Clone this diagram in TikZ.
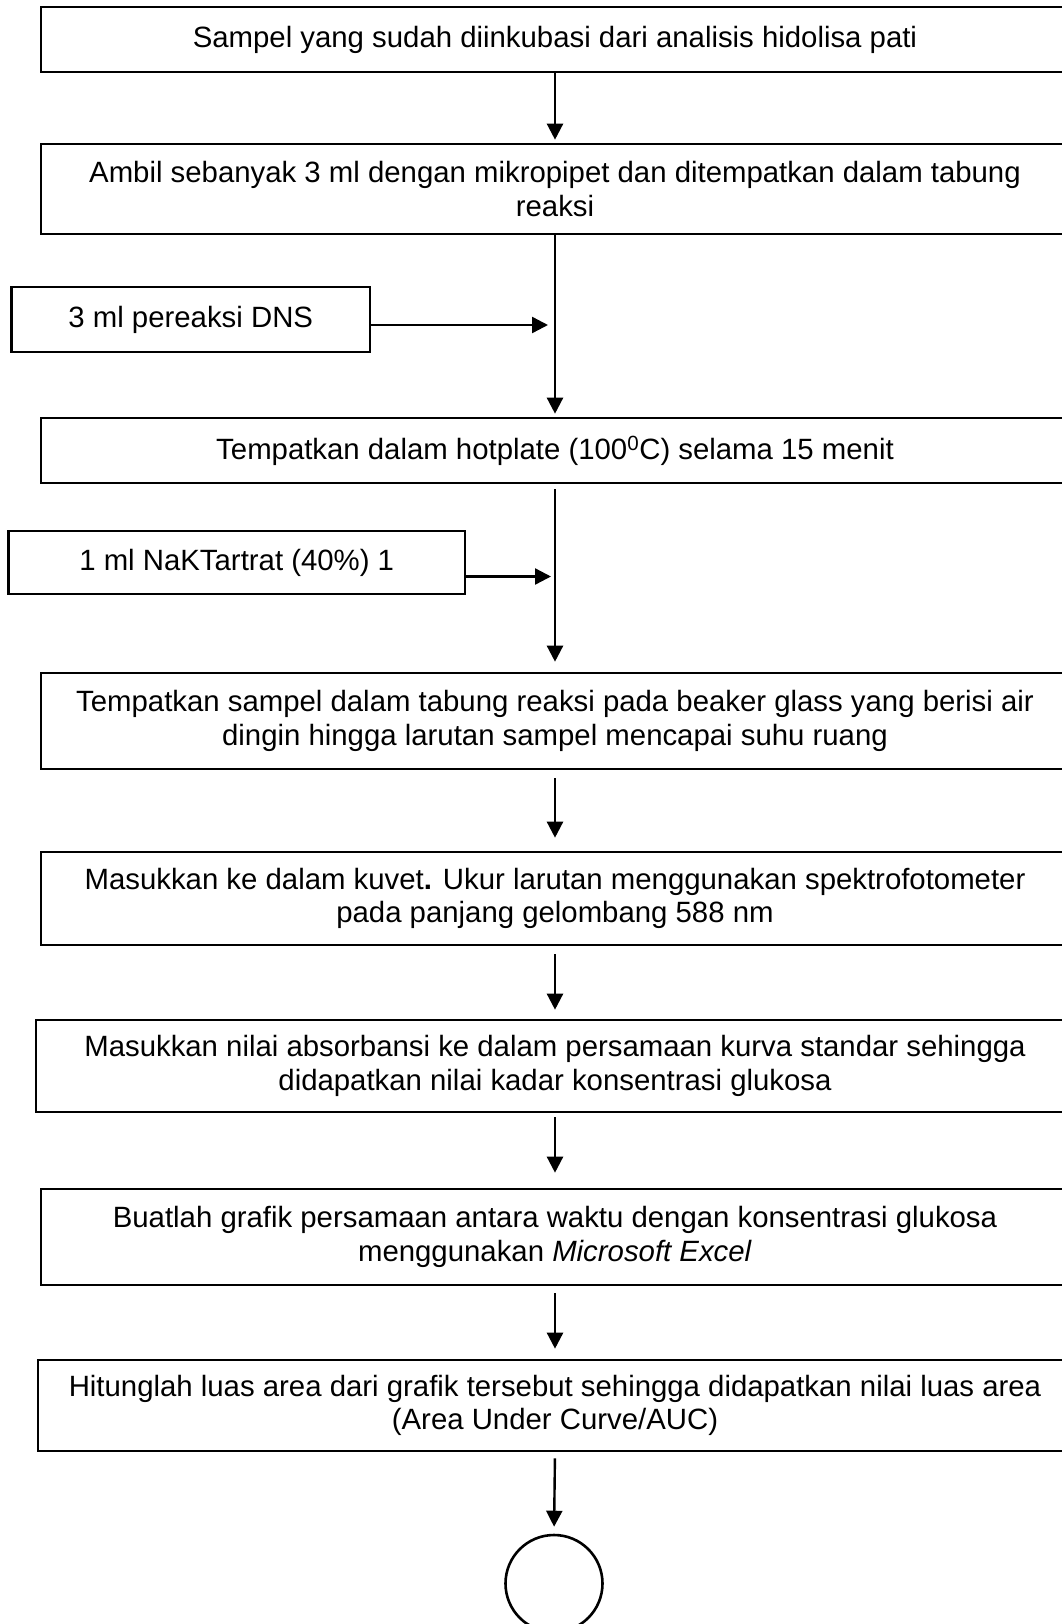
\documentclass[tikz,border=0pt]{standalone}
\usepackage{fontspec}
\setmainfont{Liberation Sans}
\usetikzlibrary{arrows.meta,calc}
\tikzset{
  stepbox/.style={draw, line width=2.6pt, rectangle, align=center, inner sep=0pt,
    font=\fontsize{29.35}{33.5}\selectfont},
  arr/.style={line width=2.4pt, -{Triangle[length=16pt,width=16pt]}},
  endcircle/.style={draw, circle, line width=2.6pt, minimum size=97pt, inner sep=0pt}
}
\begin{document}
\begin{tikzpicture}[x=1pt,y=-1pt]
\useasboundingbox (0,0) rectangle (1062,1624);
\clip (0,0) rectangle (1062,1624);
\fill[white] (0,0) rectangle (1062,1624);

% main process steps
\node[stepbox, minimum width=1028pt, minimum height=65pt] (b1) at (555,39.5)
  {Sampel yang sudah diinkubasi dari analisis hidolisa pati};
\node[stepbox, minimum width=1028pt, minimum height=90pt] (b2) at (555,189)
  {Ambil sebanyak 3 ml dengan mikropipet dan ditempatkan dalam tabung\\reaksi};
\node[stepbox, minimum width=1028pt, minimum height=65pt] (b3) at (555,450.5)
  {Tempatkan dalam hotplate (100\textsuperscript{0}C) selama 15 menit};
\node[stepbox, minimum width=1028pt, minimum height=96pt] (b4) at (555,721)
  {Tempatkan sampel dalam tabung reaksi pada beaker glass yang berisi air\\dingin hingga larutan sampel mencapai suhu ruang};
\node[stepbox, minimum width=1028pt, minimum height=93pt] (b5) at (555,898.5)
  {Masukkan ke dalam kuvet\textbf{.} Ukur larutan menggunakan spektrofotometer\\pada panjang gelombang 588 nm};
\node[stepbox, minimum width=1038pt, minimum height=92pt] (b6) at (555,1066)
  {Masukkan nilai absorbansi ke dalam persamaan kurva standar sehingga\\didapatkan nilai kadar konsentrasi glukosa};
\node[stepbox, minimum width=1028pt, minimum height=96pt] (b7) at (555,1237)
  {Buatlah grafik persamaan antara waktu dengan konsentrasi glukosa\\menggunakan \textit{Microsoft Excel}};
\node[stepbox, minimum width=1034pt, minimum height=91pt] (b8) at (555,1405.5)
  {Hitunglah luas area dari grafik tersebut sehingga didapatkan nilai luas area\\(Area Under Curve/AUC)};
\node[endcircle] (end) at (554,1583.5) {};

% reagents added on the way
\node[stepbox, minimum width=358.5pt, minimum height=65pt] (dns) at (190.75,319.5)
  {3 ml pereaksi DNS};
\node[stepbox, minimum width=456.6pt, minimum height=63pt] (nak) at (236.7,562.5)
  {1 ml NaKTartrat (40\%) 1};

% flow connectors
\draw[arr, shorten >=3pt] (b1.south) -- (b2.north);
\draw[arr, shorten >=3pt] (b2.south) -- (b3.north);
\draw[arr, shorten <=5pt, shorten >=10pt] (b3.south) -- (b4.north);
\draw[arr, shorten <=8pt, shorten >=13pt] (b4.south) -- (b5.north);
\draw[arr, shorten <=8pt, shorten >=9pt] (b5.south) -- (b6.north);
\draw[arr, shorten <=4pt, shorten >=15pt] (b6.south) -- (b7.north);
\draw[arr, shorten <=7pt, shorten >=10pt] (b7.south) -- (b8.north);
\draw[arr, shorten <=6pt, shorten >=7pt] (b8.south) -- (end.north);

\draw[arr, shorten >=7pt] ([yshift=-5.5pt]dns.east) -- ([yshift=-5.5pt]dns.east -| b2.south);
\draw[arr, shorten >=4pt] ([yshift=-14pt]nak.east) -- ([yshift=-14pt]nak.east -| b3.south);
\end{tikzpicture}
\end{document}
